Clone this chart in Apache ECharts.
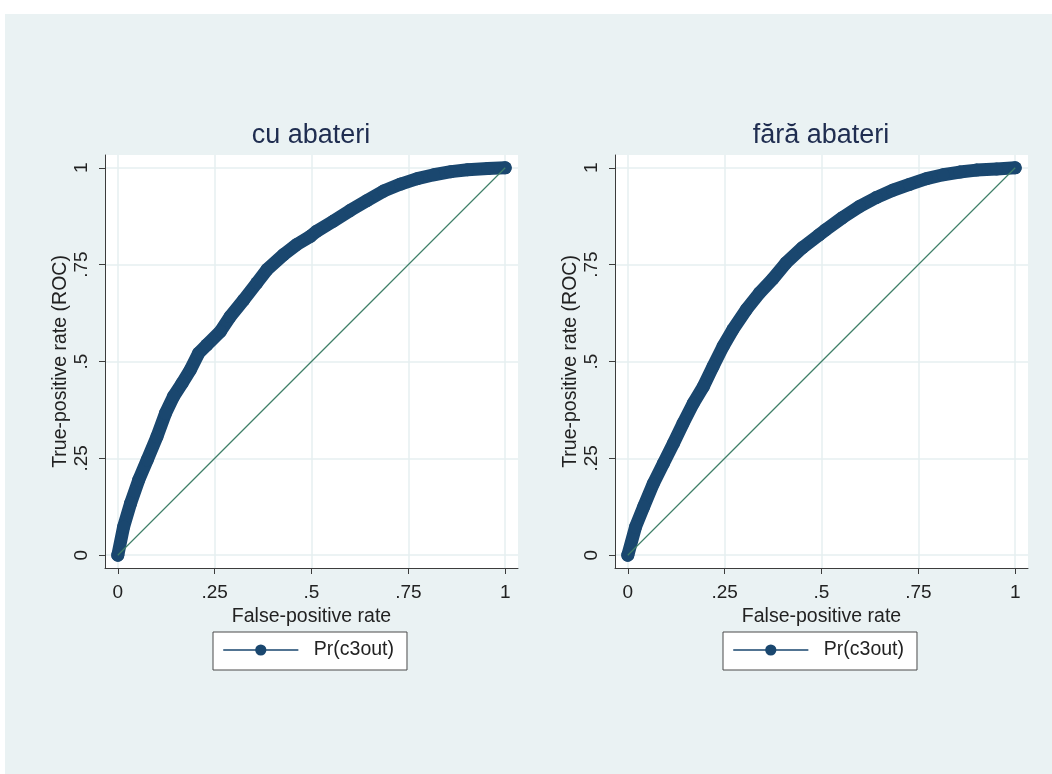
<!DOCTYPE html>
<html>
<head>
<meta charset="utf-8">
<script src="https://cdn.jsdelivr.net/npm/echarts@6/dist/echarts.min.js"></script>
<style>
  html, body { margin: 0; padding: 0; background: #ffffff; width: 1052px; height: 774px; overflow: hidden; }
  #bg { position: absolute; left: 5px; top: 14px; width: 1047px; height: 760px; background: #eaf2f3; }
  #chart { position: absolute; left: 0; top: 0; width: 1052px; height: 774px; }
</style>
</head>
<body>
<div id="bg"></div>
<div id="chart"></div>
<script>
// Panel titles
const panelTitles = ['cu abateri', 'fără abateri'];
const seriesName = 'Pr(c3out)';
const xAxisTitle = 'False-positive rate';
const yAxisTitle = 'True-positive rate (ROC)';

// Tick values and labels (both axes)
const tickValues = [0, 0.25, 0.5, 0.75, 1];
const tickLabels = ['0', '.25', '.5', '.75', '1'];

// ROC curve, "cu abateri"
const fprCu = [0, 0.015, 0.033, 0.054, 0.076, 0.101, 0.123, 0.144, 0.166, 0.187, 0.209, 0.23, 0.265, 0.29, 0.325, 0.359, 0.385, 0.428, 0.462, 0.497, 0.513, 0.556, 0.6, 0.643, 0.686, 0.73, 0.773, 0.816, 0.86, 0.903, 0.955, 1];
const tprCu = [0, 0.073, 0.134, 0.194, 0.246, 0.306, 0.366, 0.41, 0.444, 0.478, 0.522, 0.543, 0.578, 0.616, 0.659, 0.703, 0.737, 0.776, 0.802, 0.823, 0.836, 0.862, 0.89, 0.915, 0.94, 0.958, 0.972, 0.982, 0.99, 0.995, 0.998, 1];

// ROC curve, "fără abateri"
const fprFara = [0, 0.02, 0.041, 0.066, 0.092, 0.118, 0.143, 0.169, 0.195, 0.22, 0.246, 0.271, 0.306, 0.34, 0.374, 0.408, 0.451, 0.494, 0.511, 0.555, 0.598, 0.641, 0.684, 0.727, 0.771, 0.814, 0.857, 0.9, 0.952, 1];
const tprFara = [0, 0.073, 0.125, 0.185, 0.237, 0.289, 0.341, 0.392, 0.435, 0.487, 0.539, 0.582, 0.634, 0.677, 0.713, 0.754, 0.794, 0.827, 0.84, 0.872, 0.9, 0.923, 0.942, 0.957, 0.972, 0.982, 0.989, 0.994, 0.997, 1];

// Reference (chance) diagonal
const diagX = [0, 1];
const diagY = [0, 1];

const zip = (a, b) => a.map((v, i) => [v, b[i]]);

const FONT = "'Liberation Sans', Arial, Helvetica, sans-serif";
const NAVY = '#1a476f';
const GREEN = '#3f7f68';
const AXIS = '#3c3c3c';
const TXT = '#222222';

const gridLefts = [105, 615];
const fmt = v => { const i = tickValues.indexOf(v); return i >= 0 ? tickLabels[i] : ''; };

function xAxisFor(i) {
  return {
    gridIndex: i, type: 'value', min: -0.033, max: 1.033,
    axisLine: { show: true, onZero: false, lineStyle: { color: AXIS, width: 1 } },
    axisTick: { show: true, length: 6, customValues: tickValues, lineStyle: { color: AXIS } },
    axisLabel: { customValues: tickValues, formatter: fmt, margin: 15, fontSize: 19, color: TXT, fontFamily: FONT },
    splitLine: { show: true, lineStyle: { color: '#e6eff1', width: 1.5 } },
    name: xAxisTitle, nameLocation: 'middle', nameGap: 34,
    nameTextStyle: { fontSize: 19.5, color: TXT, fontFamily: FONT }
  };
}
function yAxisFor(i) {
  return {
    gridIndex: i, type: 'value', min: -0.033, max: 1.033,
    axisLine: { show: true, onZero: false, lineStyle: { color: AXIS, width: 1 } },
    axisTick: { show: true, length: 6, customValues: tickValues, lineStyle: { color: AXIS } },
    axisLabel: { customValues: tickValues, formatter: fmt, margin: 14, rotate: 90, fontSize: 19, color: TXT, fontFamily: FONT },
    splitLine: { show: true, lineStyle: { color: '#e6eff1', width: 1.5 } },
    name: yAxisTitle, nameLocation: 'middle', nameGap: 34,
    nameTextStyle: { fontSize: 19.5, color: TXT, fontFamily: FONT }
  };
}
function rocSeries(i, xs, ys) {
  return {
    name: seriesName, type: 'line', xAxisIndex: i, yAxisIndex: i,
    data: zip(xs, ys), symbol: 'circle', symbolSize: 13, showSymbol: true,
    itemStyle: { color: NAVY }, lineStyle: { color: NAVY, width: 13, cap: 'round', join: 'round' },
    animation: false, silent: true, z: 2
  };
}
function diagSeries(i) {
  return {
    name: 'ref', type: 'line', xAxisIndex: i, yAxisIndex: i,
    data: zip(diagX, diagY), symbol: 'none',
    lineStyle: { color: GREEN, width: 1.2 }, animation: false, silent: true, z: 3
  };
}
function legendFor(i) {
  return {
    data: [seriesName], left: 213 + (gridLefts[i] - gridLefts[0]), top: 632, orient: 'horizontal',
    padding: [8, 13, 10, 10], itemWidth: 74, itemHeight: 14,
    backgroundColor: '#ffffff', borderColor: '#4a4a4a', borderWidth: 1, borderRadius: 0,
    lineStyle: { width: 1.6 },
    textStyle: { fontSize: 19.5, color: TXT, fontFamily: FONT, padding: [0, 0, 0, 11] },
    selectedMode: false
  };
}

const chart = echarts.init(document.getElementById('chart'), null, { renderer: 'canvas' });
chart.setOption({
  backgroundColor: 'transparent',
  animation: false,
  textStyle: { fontFamily: FONT },
  title: panelTitles.map((t, i) => ({
    text: t, left: gridLefts[i] + 206, top: 122, textAlign: 'center', padding: 0,
    textStyle: { fontSize: 27, fontWeight: 'normal', color: '#1f2d50', fontFamily: FONT }
  })),
  grid: gridLefts.map(l => ({
    left: l, top: 155, width: 413, height: 413, show: true,
    backgroundColor: '#ffffff', borderWidth: 0, containLabel: false
  })),
  xAxis: [xAxisFor(0), xAxisFor(1)],
  yAxis: [yAxisFor(0), yAxisFor(1)],
  legend: [legendFor(0), legendFor(1)],
  series: [
    rocSeries(0, fprCu, tprCu), diagSeries(0),
    rocSeries(1, fprFara, tprFara), diagSeries(1)
  ]
});
</script>
</body>
</html>
